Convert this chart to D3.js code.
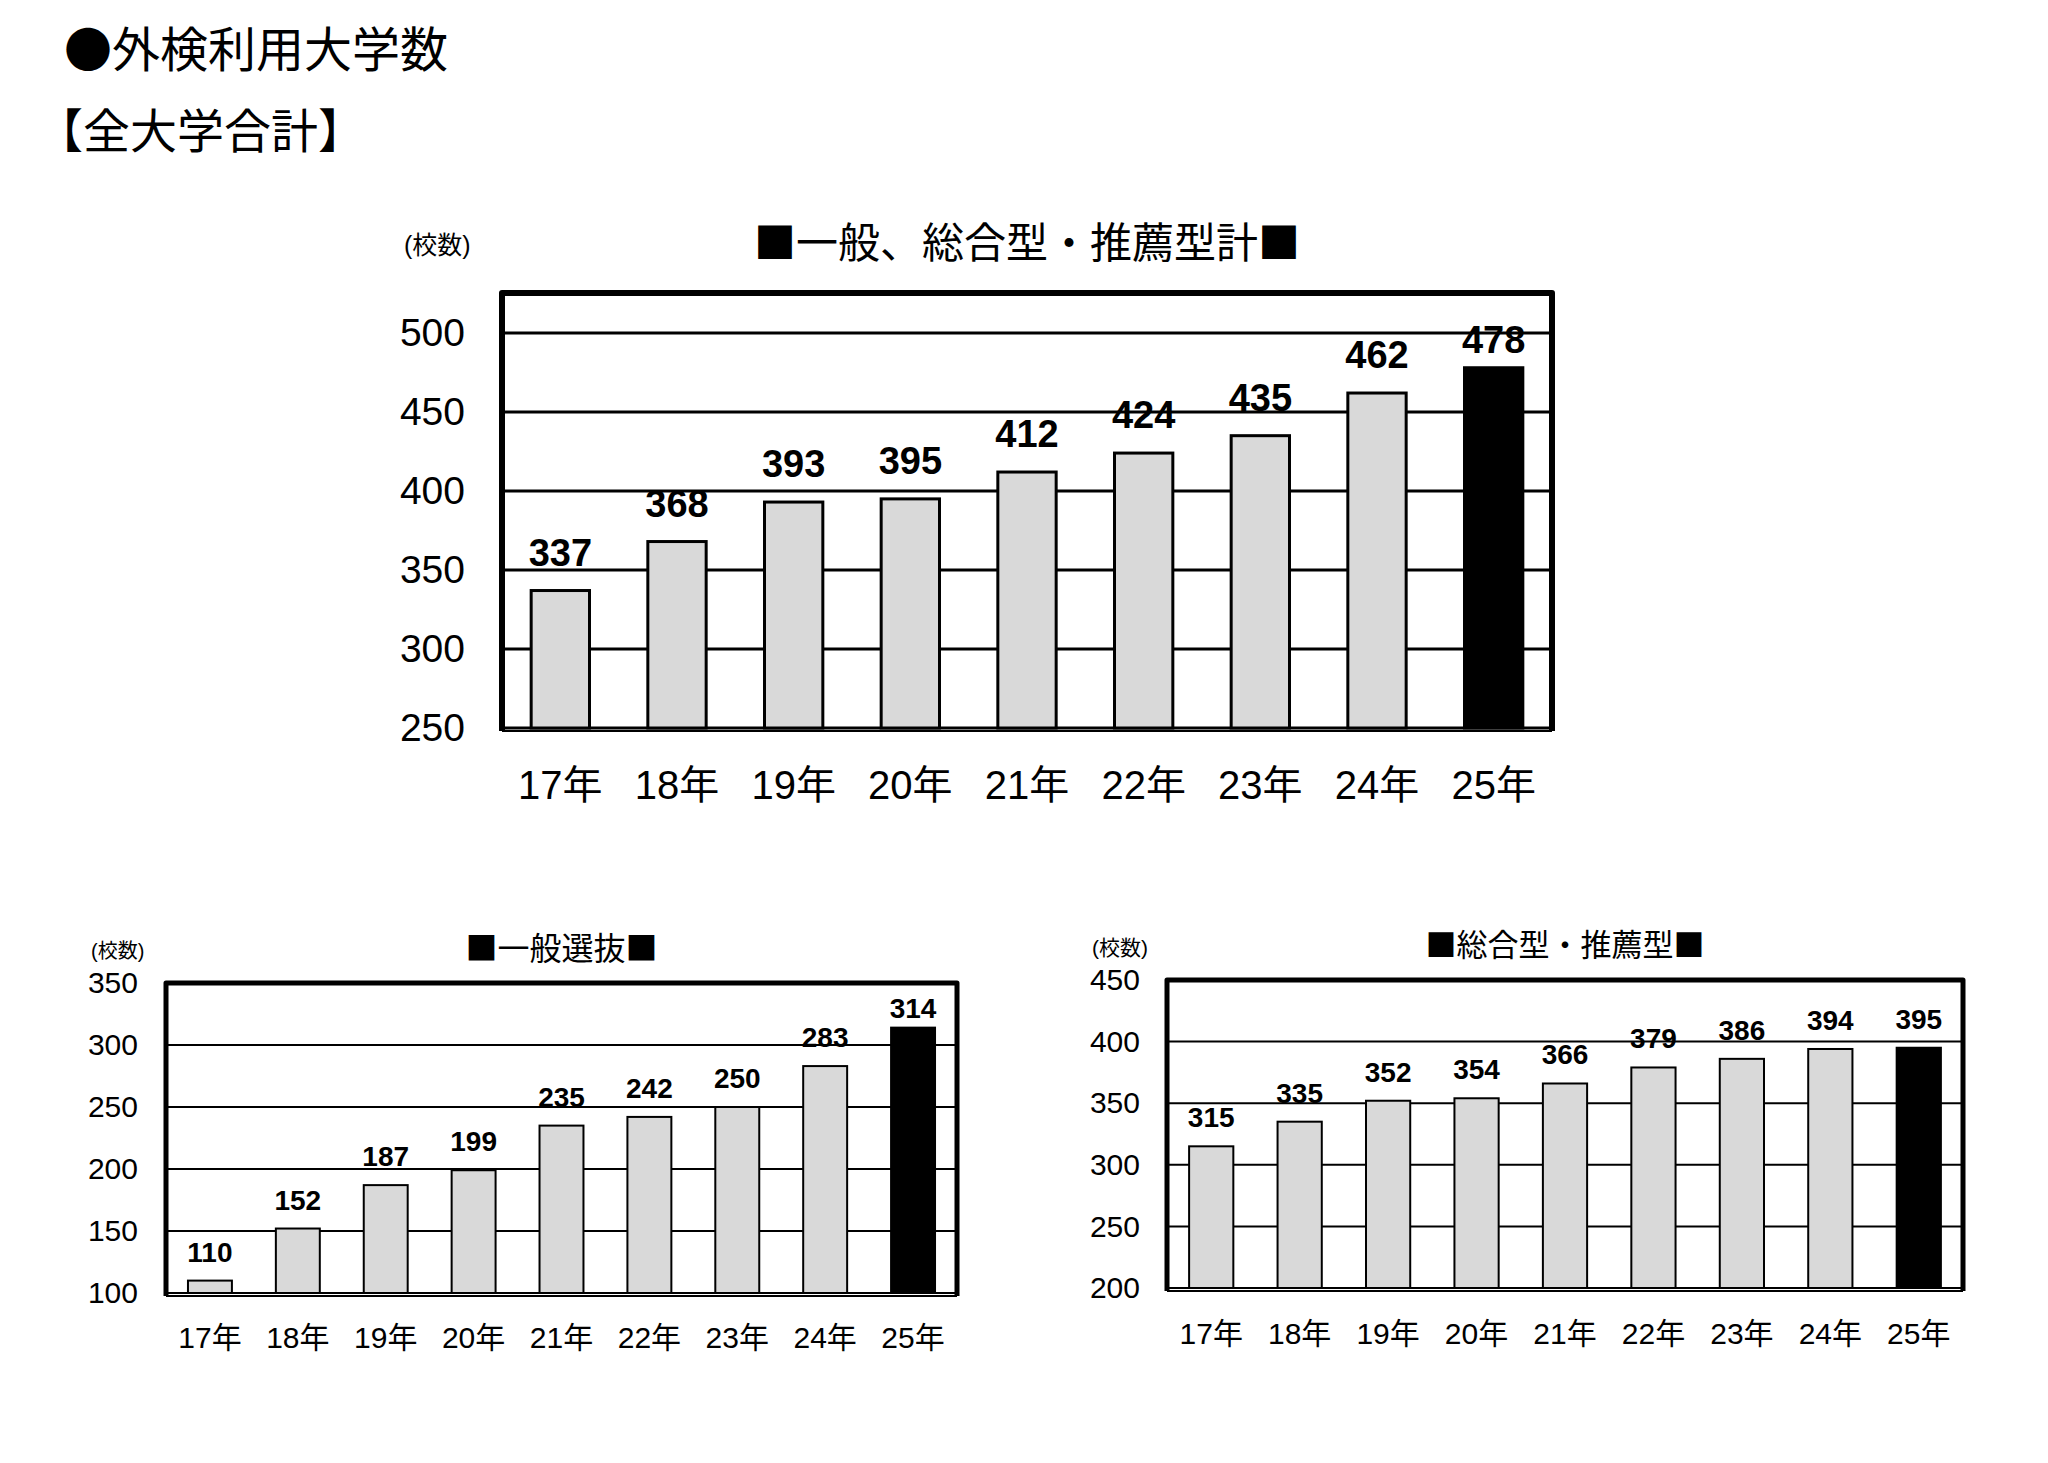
<!DOCTYPE html>
<html>
<head>
<meta charset="utf-8">
<script src="https://cdn.jsdelivr.net/npm/d3@7"></script>
<style>
  body { margin: 0; background: #fff; }
  text { fill: #000; }
</style>
</head>
<body>
<div id="chart"></div>
<script>
// data
var years = ["17年", "18年", "19年", "20年", "21年", "22年", "23年", "24年", "25年"];
var totalCounts = [337, 368, 393, 395, 412, 424, 435, 462, 478];
var ippanCounts = [110, 152, 187, 199, 235, 242, 250, 283, 314];
var sogoCounts = [315, 335, 352, 354, 366, 379, 386, 394, 395];

var totalTicks = [250, 300, 350, 400, 450, 500];
var ippanTicks = [100, 150, 200, 250, 300, 350];
var sogoTicks = [200, 250, 300, 350, 400, 450];

var highlightYear = "25年";

var svgWidth = 2048;
var svgHeight = 1463;

var numFont = "'Liberation Sans', Arial, 'Noto Sans CJK JP', sans-serif";
var jpFont = "'Noto Sans CJK JP', 'Liberation Sans', sans-serif";

var svg = d3.select("#chart")
  .append("svg")
  .attr("width", svgWidth)
  .attr("height", svgHeight);

// page headings
svg.append("text")
  .attr("x", 64)
  .attr("y", 50)
  .attr("dy", "0.36em")
  .style("font-family", jpFont)
  .style("font-size", "48px")
  .text("●外検利用大学数");

svg.append("text")
  .attr("x", 36)
  .attr("y", 131)
  .attr("dy", "0.36em")
  .style("font-family", jpFont)
  .style("font-size", "47px")
  .text("【全大学合計】");

function drawChart(opt) {
  var x = d3.scaleBand()
    .domain(years)
    .range([opt.left, opt.right])
    .paddingInner(0.5)
    .paddingOuter(0.25);

  var y = d3.scaleLinear()
    .domain(opt.domain)
    .range([opt.bottom, opt.top]);

  var g = svg.append("g");

  // gridlines
  g.selectAll(".grid")
    .data(opt.ticks)
    .enter()
    .append("line")
    .attr("x1", opt.left)
    .attr("x2", opt.right)
    .attr("y1", d => y(d))
    .attr("y2", d => y(d))
    .attr("stroke", "#000")
    .attr("stroke-width", opt.gridWidth);

  // bars
  g.selectAll(".bar")
    .data(opt.values)
    .enter()
    .append("rect")
    .attr("x", (d, i) => x(years[i]))
    .attr("y", d => y(d))
    .attr("width", x.bandwidth())
    .attr("height", d => y(opt.domain[0]) - y(d))
    .attr("fill", (d, i) => years[i] == highlightYear ? "#000" : "#d9d9d9")
    .attr("stroke", "#000")
    .attr("stroke-width", opt.barStroke);

  // value labels
  g.selectAll(".val")
    .data(opt.values)
    .enter()
    .append("text")
    .attr("x", (d, i) => x(years[i]) + x.bandwidth() / 2)
    .attr("y", d => Math.max(y(d) - opt.labelGap, opt.top + opt.labelFloor))
    .attr("text-anchor", "middle")
    .style("font-family", numFont)
    .style("font-weight", "bold")
    .style("font-size", opt.labelSize + "px")
    .text(d => d);

  // axes
  var leftAxis = d3.axisLeft(y)
    .tickValues(opt.ticks)
    .tickSize(0)
    .tickPadding(opt.yPad);

  var yAxisG = g.append("g")
    .attr("transform", "translate(" + opt.left + ",0)")
    .call(leftAxis);
  yAxisG.select(".domain").remove();
  yAxisG.selectAll("text")
    .style("font-family", numFont)
    .style("font-size", opt.tickSize + "px")
    .attr("fill", "#000");

  var bottomAxis = d3.axisBottom(x)
    .tickSize(0)
    .tickPadding(opt.xPad);

  var xAxisG = g.append("g")
    .attr("transform", "translate(0," + opt.bottom + ")")
    .call(bottomAxis);
  xAxisG.select(".domain").remove();
  xAxisG.selectAll("text")
    .style("font-family", numFont)
    .style("font-size", opt.xSize + "px")
    .attr("fill", "#000");

  // frame: heavy top / left / right, thin bottom
  g.append("path")
    .attr("d", "M" + opt.left + "," + (opt.bottom + 3) + "V" + opt.top + "H" + opt.right + "V" + (opt.bottom + 3))
    .attr("fill", "none")
    .attr("stroke", "#000")
    .attr("stroke-width", opt.frameWidth)
    .attr("stroke-linejoin", "round");

  g.append("line")
    .attr("x1", opt.left)
    .attr("x2", opt.right)
    .attr("y1", opt.bottom + 3)
    .attr("y2", opt.bottom + 3)
    .attr("stroke", "#000")
    .attr("stroke-width", 2);

  // titles
  g.append("text")
    .attr("x", (opt.left + opt.right) / 2)
    .attr("y", opt.titleY)
    .attr("dy", "0.36em")
    .attr("text-anchor", "middle")
    .style("font-family", jpFont)
    .style("font-size", opt.titleSize + "px")
    .text(opt.title);

  g.append("text")
    .attr("x", opt.unitX)
    .attr("y", opt.unitY)
    .attr("dy", "0.36em")
    .style("font-family", numFont)
    .style("font-size", opt.unitSize + "px")
    .text("(校数)");
}

drawChart({
  values: totalCounts, ticks: totalTicks, domain: [250, 525.3],
  left: 502, right: 1552, top: 293, bottom: 728,
  gridWidth: 3, barStroke: 3, frameWidth: 6,
  labelSize: 38, labelGap: 25, labelFloor: 60,
  tickSize: 39, yPad: 37, xSize: 40, xPad: 43,
  title: "■一般、総合型・推薦型計■", titleSize: 42, titleY: 243,
  unitX: 404, unitY: 245, unitSize: 25
});

drawChart({
  values: ippanCounts, ticks: ippanTicks, domain: [100, 350],
  left: 166, right: 957, top: 983, bottom: 1293,
  gridWidth: 2, barStroke: 2, frameWidth: 5,
  labelSize: 28, labelGap: 19, labelFloor: 35,
  tickSize: 30, yPad: 28, xSize: 30, xPad: 34,
  title: "■一般選抜■", titleSize: 32, titleY: 948,
  unitX: 91, unitY: 951, unitSize: 20
});

drawChart({
  values: sogoCounts, ticks: sogoTicks, domain: [200, 450],
  left: 1167, right: 1963, top: 980, bottom: 1288,
  gridWidth: 2, barStroke: 2, frameWidth: 5,
  labelSize: 28, labelGap: 19, labelFloor: 0,
  tickSize: 30, yPad: 27, xSize: 30, xPad: 35,
  title: "■総合型・推薦型■", titleSize: 31, titleY: 945,
  unitX: 1092, unitY: 947, unitSize: 21
});
</script>
</body>
</html>
